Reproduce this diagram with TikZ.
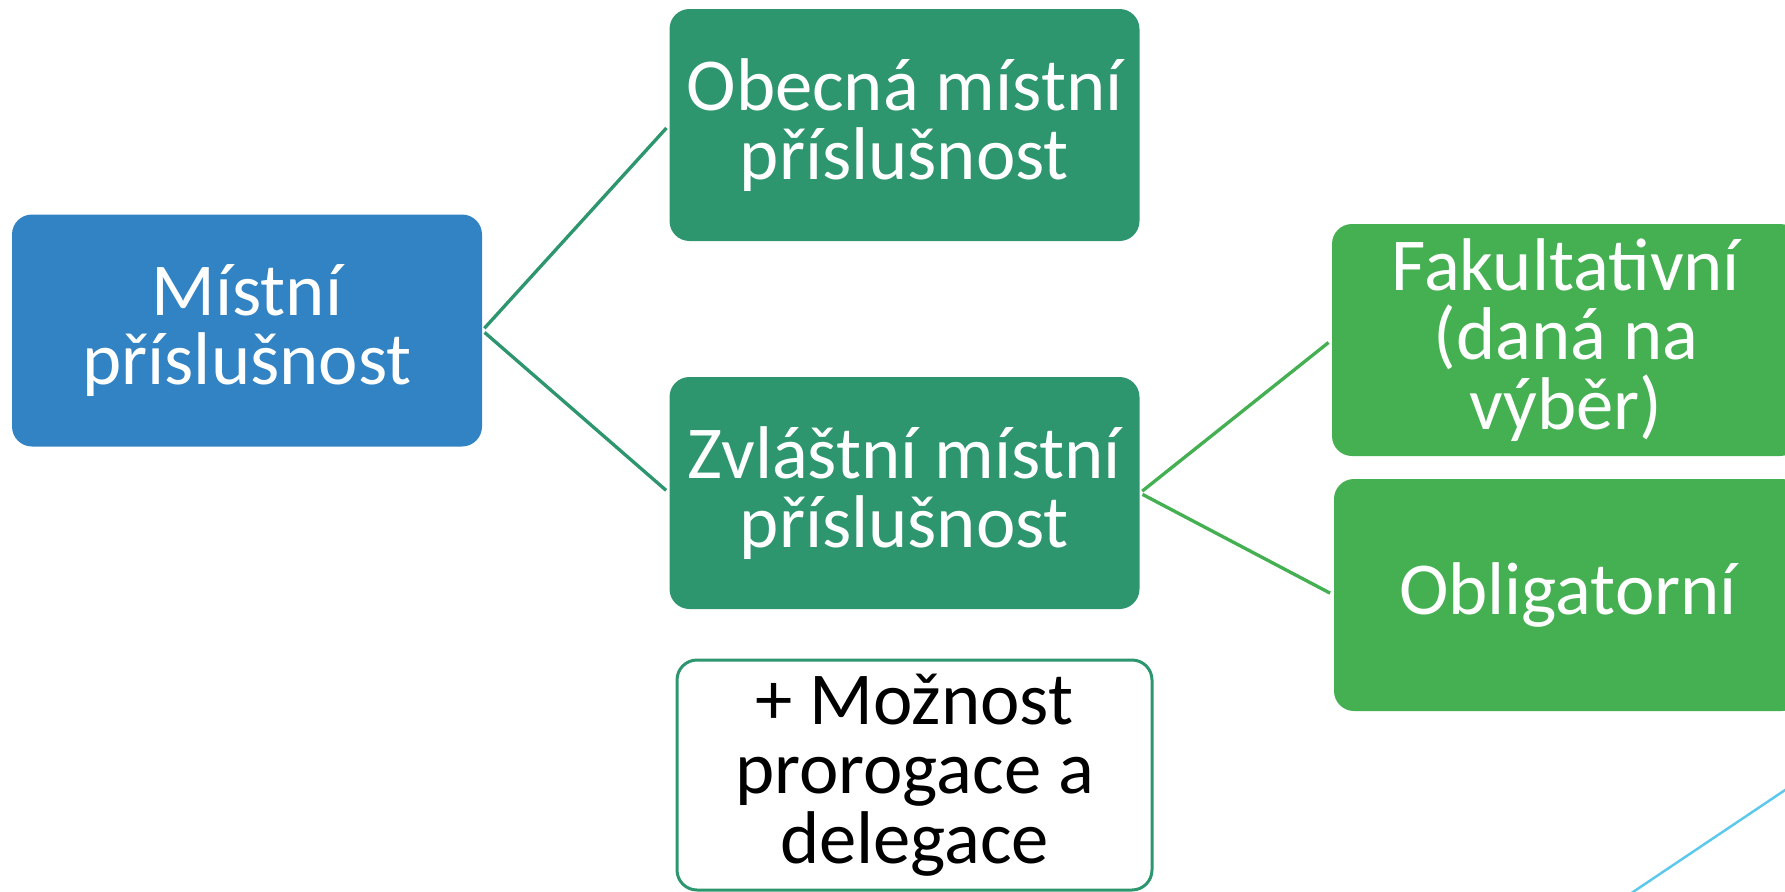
\documentclass[tikz,border=0pt]{standalone}
\usepackage{fontspec}
\setmainfont{Carlito}
\usetikzlibrary{positioning}
\definecolor{rootblue}{HTML}{3183C4}
\definecolor{darkgreen}{HTML}{2E966E}
\definecolor{lightgreen}{HTML}{44B052}
\definecolor{skyline}{HTML}{5BC8EC}
\tikzset{
	box/.style={rectangle, rounded corners=0.4cm, minimum width=9.4cm, minimum height=4.64cm,
		inner sep=0pt, align=center, text=white, font=\fontsize{42.5}{39.5}\selectfont},
	rootbox/.style={box, fill=rootblue},
	midbox/.style={box, fill=darkgreen},
	leafbox/.style={box, fill=lightgreen, minimum width=9.36cm},
	notebox/.style={box, draw=darkgreen, line width=1.7pt, fill=white, text=black,
		minimum width=9.5cm, minimum height=4.6cm},
	link/.style={line width=1.9pt, shorten <=0.06cm, shorten >=0.08cm}
}

\begin{document}
\begin{tikzpicture}
	\useasboundingbox (0,0) rectangle (35.7,-17.84);
	\clip (0,0) rectangle (35.7,-17.84);

	% Place nodes
	\node [rootbox] (local) at (4.94,-6.61) {Místní\\příslušnost};
	\node [midbox] (general) at (18.09,-2.5) {Obecná místní\\příslušnost};
	\node [midbox] (special) at (18.09,-9.86) {Zvláštní místní\\příslušnost};
	\node [leafbox] (optional) at (31.32,-6.8) {Fakultativní\\(daná na\\výběr)};
	\node [leafbox] (mandatory) at (31.36,-11.9) {Obligatorní};
	\node [notebox] (extra) at (18.29,-15.5) {+ Možnost\\prorogace a\\delegace};

	% Draw edges
	\draw [link, darkgreen] (local.east) -- (general.west);
	\draw [link, darkgreen] (local.east) -- (special.west);
	\draw [link, lightgreen] (special.east) -- (optional.west);
	\draw [link, lightgreen] (special.east) -- (mandatory.west);

	% Corner line
	\draw [skyline, line width=1.4pt] (32.57,-17.9) -- (36.0,-15.6);
\end{tikzpicture}
\end{document}
